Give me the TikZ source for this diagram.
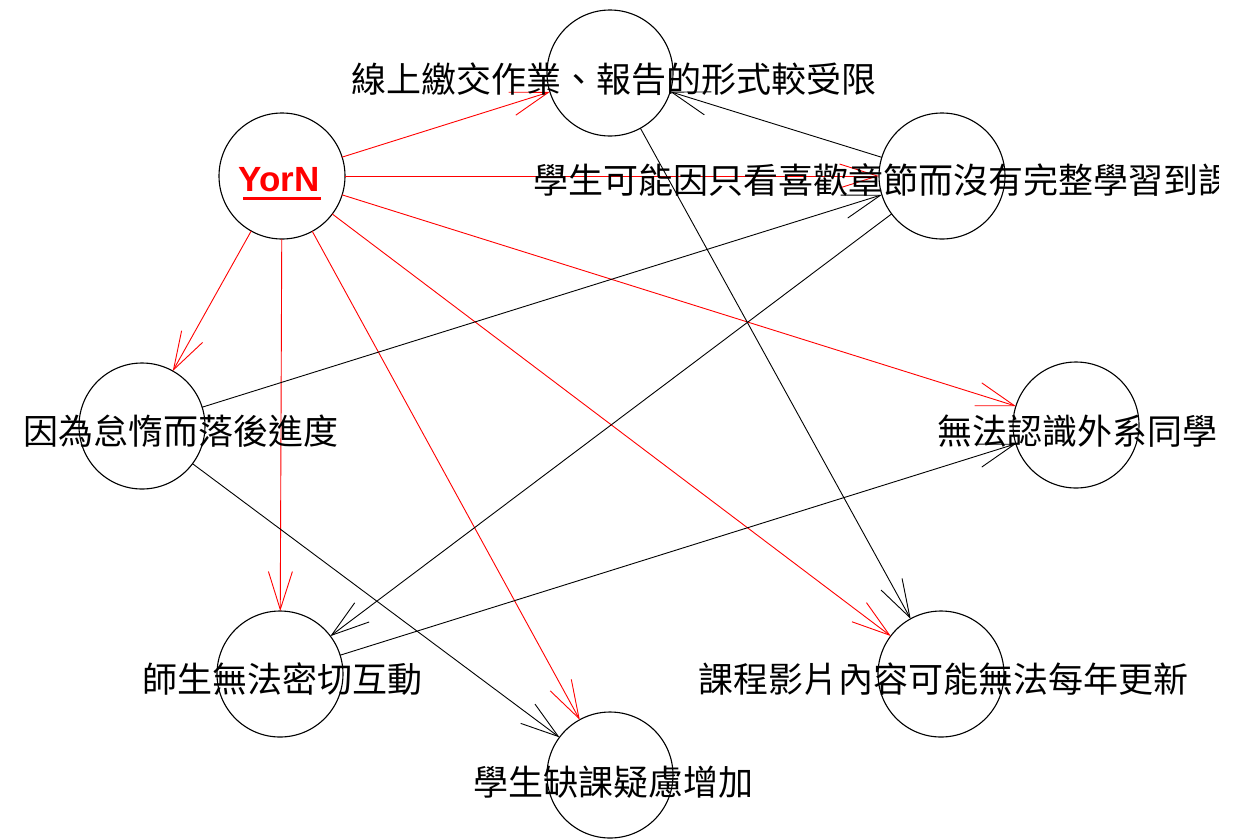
\documentclass[tikz,border=0pt]{standalone}
\usepackage{fontspec}
\setmainfont{Liberation Sans}
\newfontfamily\cjk{Noto Sans CJK TC}
\usetikzlibrary{arrows.meta}
\begin{document}
\begin{tikzpicture}[x=1pt,y=-1pt,
  vtx/.style={circle,draw=black,line width=1.1pt,minimum size=126pt,inner sep=0pt,outer sep=0pt},
  lbl/.style={font=\cjk\fontsize{35}{40}\selectfont,inner sep=0pt,text=black},
  barb/.style={-{Straight Barb[length=38pt,width=24pt]}},
  redge/.style={draw=red,line width=0.9pt,barb},
  bedge/.style={draw=black,line width=0.9pt,barb}]
\fill[white] (0,0) rectangle (1250,839);
\useasboundingbox (0,0) rectangle (1250,839);
% vertices
\node[vtx] (Y)  at (282,176) {};
\node[vtx] (T)  at (610,73)  {};
\node[vtx] (R1) at (942,176) {};
\node[vtx] (L)  at (142,426) {};
\node[vtx] (R2) at (1076,425) {};
\node[vtx] (BL) at (280,674) {};
\node[vtx] (BR) at (941,674) {};
\node[vtx] (B)  at (610,775) {};
% red edges
\draw[redge] (Y) -- (T);
\draw[redge] (Y) -- (R1);
\draw[redge] (Y) -- (R2);
\draw[redge] (Y) -- (L);
\draw[redge] (Y) -- (BL);
\draw[redge] (Y) -- (B);
\draw[redge] (Y) -- (BR);
% black edges
\draw[bedge] (R1) -- (T);
\draw[bedge] (T) -- (BR);
\draw[bedge] (L) -- (R1);
\draw[bedge] (R1) -- (BL);
\draw[bedge] (BL) -- (R2);
\draw[bedge] (L) -- (B);
% labels
\node[font=\bfseries\fontsize{35}{40}\selectfont,text=red,inner sep=0pt] (yl) at (279,180) {YorN};
\draw[red,line width=2.5pt] ([xshift=5pt,yshift=-6pt]yl.south west) -- ([xshift=1pt,yshift=-6pt]yl.south east);
\node[lbl] (tT) at (614,79) {線上繳交作業、報告的形式較受限};
\begin{scope}
\clip (0,0) rectangle (1218,839);
\node[lbl,anchor=west] (tR1) at (533,180) {學生可能因只看喜歡章節而沒有完整學習到課};
\end{scope}
\node[lbl] (tL)  at (181,431) {因為怠惰而落後進度};
\node[lbl] (tR2) at (1077,431) {無法認識外系同學};
\node[lbl] (tBL) at (282,679) {師生無法密切互動};
\node[lbl] (tBR) at (943,679) {課程影片內容可能無法每年更新};
\node[lbl] (tB)  at (613,782) {學生缺課疑慮增加};
\end{tikzpicture}
\end{document}
